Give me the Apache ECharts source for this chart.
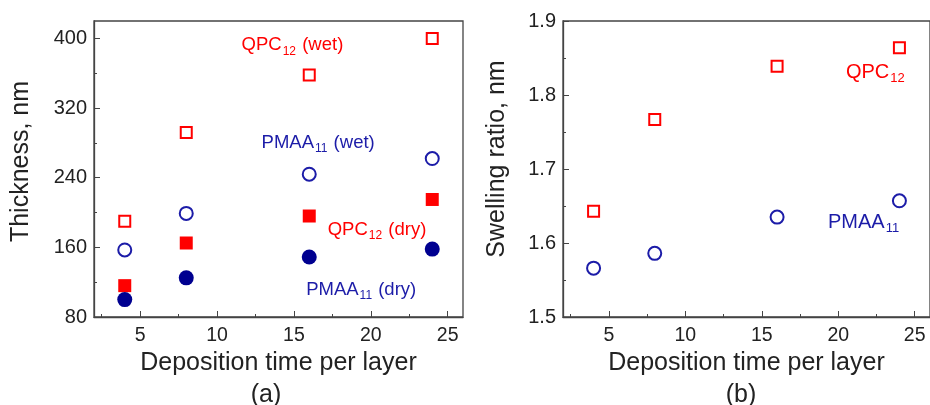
<!DOCTYPE html>
<html><head><meta charset="utf-8">
<script src="https://cdn.jsdelivr.net/npm/echarts@6/dist/echarts.min.js"></script>
<style>html,body{margin:0;padding:0;background:#fff}#c{width:930px;height:405px}</style>
</head><body><div id="c"></div>
<script>
// ---- data ----
const depTime = [4, 8, 16, 24];
const qpcWet = [190, 292, 358, 400];
const pmaaWet = [157, 199, 244, 262];
const qpcDry = [116, 165, 196, 215];
const pmaaDry = [100, 125, 149, 158];
const qpcSwell = [1.643, 1.767, 1.839, 1.864];
const pmaaSwell = [1.566, 1.586, 1.635, 1.657];
const xTicks = [5, 10, 15, 20, 25];
const xMinorTicks = [2.5, 7.5, 12.5, 17.5, 22.5];
const yTicksA = [80, 160, 240, 320, 400];
const yMinorA = [120, 200, 280, 360];
const yTicksB = [1.5, 1.6, 1.7, 1.8, 1.9];
const yMinorB = [1.55, 1.65, 1.75, 1.85];
// annotation texts with anchor (data coords)
const labelsA = [
  {x: 11.6, y: 392, base: 'QPC', sub: '12', rest: ' (wet)', c: 'red'},
  {x: 12.9, y: 280, base: 'PMAA', sub: '11', rest: ' (wet)', c: 'blue'},
  {x: 17.2, y: 180.5, base: 'QPC', sub: '12', rest: ' (dry)', c: 'red'},
  {x: 15.8, y: 111, base: 'PMAA', sub: '11', rest: ' (dry)', c: 'blue'}
];
const labelsB = [
  {x: 20.5, y: 1.831, base: 'QPC', sub: '12', rest: '', c: 'red'},
  {x: 19.33, y: 1.628, base: 'PMAA', sub: '11', rest: '', c: 'blue'}
];

const RED = '#ff0000', BLUE = '#1c1ca8', NAVY = '#000090', AX = '#444';
const FONT = 'Liberation Sans, Arial, sans-serif';

function pts(xs, ys) { return xs.map((x, i) => [x, ys[i]]); }

function xAxes(gi) {
  return [{
    type: 'value', gridIndex: gi, min: 2, max: 26,
    name: 'Deposition time per layer', nameLocation: 'middle', nameGap: 32,
    nameTextStyle: {fontSize: 25, color: '#222', fontFamily: FONT, verticalAlign: 'top'},
    axisLine: {lineStyle: {color: AX, width: 1.3}},
    axisTick: {inside: true, length: 6, customValues: xTicks, lineStyle: {color: AX}},
    axisLabel: {customValues: xTicks, fontSize: 19.5, color: '#222', fontFamily: FONT, margin: 9},
    splitLine: {show: false}
  }, {
    type: 'value', gridIndex: gi, min: 2, max: 26, position: 'bottom',
    axisLine: {show: false},
    axisTick: {inside: true, length: 3, customValues: xMinorTicks, lineStyle: {color: AX}},
    axisLabel: {show: false}, splitLine: {show: false}
  }];
}
function yAxes(gi, min, max, ticks, minor, name, gap, shift, fmt) {
  return [{
    type: 'value', gridIndex: gi, min: min, max: max,
    name: name, nameLocation: 'middle', nameGap: gap, nameRotate: 90,
    nameTextStyle: {fontSize: 25, color: '#222', fontFamily: FONT, padding: [0, 0, 0, shift]},
    axisLine: {show: true, lineStyle: {color: AX, width: 1.3}},
    axisTick: {inside: true, length: 6, customValues: ticks, lineStyle: {color: AX}},
    axisLabel: {customValues: ticks, fontSize: 20, color: '#222', fontFamily: FONT, margin: 7, formatter: fmt},
    splitLine: {show: false}
  }, {
    type: 'value', gridIndex: gi, min: min, max: max, position: 'left',
    axisLine: {show: false},
    axisTick: {inside: true, length: 3, customValues: minor, lineStyle: {color: AX}},
    axisLabel: {show: false}, splitLine: {show: false}
  }];
}
function labelSeries(list, xi, yi, big) {
  const f = big ? 20 : 18.5, fs = big ? 13 : 12, pad = big ? [12, 0, 0, 1] : [12, 1, 0, 1];
  return {
    type: 'scatter', xAxisIndex: xi, yAxisIndex: yi, symbolSize: 0, silent: true, z: 10,
    itemStyle: {opacity: 1},
    data: list.map(l => ({value: [l.x, l.y], lab: l})),
    label: {
      show: true, position: [0, 0], align: 'left', verticalAlign: 'middle',
      formatter: p => '{' + p.data.lab.c + '|' + p.data.lab.base + '}{' + p.data.lab.c + 's|' + p.data.lab.sub + '}{' + p.data.lab.c + '|' + p.data.lab.rest + '}',
      rich: {
        red: {fontSize: f, color: RED, fontFamily: FONT},
        reds: {fontSize: fs, color: RED, fontFamily: FONT, verticalAlign: 'bottom', padding: pad},
        blue: {fontSize: f, color: BLUE, fontFamily: FONT},
        blues: {fontSize: fs, color: BLUE, fontFamily: FONT, verticalAlign: 'bottom', padding: pad}
      }
    }
  };
}

const openSty = (color) => ({color: 'transparent', borderColor: color, borderWidth: 2, opacity: 1});
const fillSty = (color) => ({color: color, opacity: 1});
const chart = echarts.init(document.getElementById('c'));
chart.setOption({
  animation: false,
  grid: [
    {left: 94, top: 21, width: 369, height: 296, show: true, borderColor: AX, borderWidth: 1.3, backgroundColor: 'transparent'},
    {left: 563, top: 21, width: 369, height: 296, show: true, borderColor: AX, borderWidth: 1.3, backgroundColor: 'transparent'}
  ],
  xAxis: [...xAxes(0), ...xAxes(1)],
  yAxis: [
    ...yAxes(0, 80, 420, yTicksA, yMinorA, 'Thickness, nm', 60, 15, v => String(v)),
    ...yAxes(1, 1.5, 1.9, yTicksB, yMinorB, 'Swelling ratio, nm', 53, 20, v => v.toFixed(1))
  ],
  title: [
    {text: '(a)', left: 261, top: 378, textAlign: 'center', textStyle: {fontSize: 25, fontWeight: 'normal', color: '#222', fontFamily: FONT}},
    {text: '(b)', left: 736, top: 378, textAlign: 'center', textStyle: {fontSize: 25, fontWeight: 'normal', color: '#222', fontFamily: FONT}}
  ],
  series: [
    {type: 'scatter', xAxisIndex: 0, yAxisIndex: 0, symbol: 'rect', symbolSize: 11, itemStyle: openSty(RED), data: pts(depTime, qpcWet)},
    {type: 'scatter', xAxisIndex: 0, yAxisIndex: 0, symbol: 'circle', symbolSize: 13, itemStyle: openSty(BLUE), data: pts(depTime, pmaaWet)},
    {type: 'scatter', xAxisIndex: 0, yAxisIndex: 0, symbol: 'rect', symbolSize: 13, itemStyle: fillSty(RED), data: pts(depTime, qpcDry)},
    {type: 'scatter', xAxisIndex: 0, yAxisIndex: 0, symbol: 'circle', symbolSize: 15, itemStyle: fillSty(NAVY), data: pts(depTime, pmaaDry)},
    {type: 'scatter', xAxisIndex: 2, yAxisIndex: 2, symbol: 'rect', symbolSize: 11, itemStyle: openSty(RED), data: pts(depTime, qpcSwell)},
    {type: 'scatter', xAxisIndex: 2, yAxisIndex: 2, symbol: 'circle', symbolSize: 13, itemStyle: openSty(BLUE), data: pts(depTime, pmaaSwell)},
    labelSeries(labelsA, 0, 0, false),
    labelSeries(labelsB, 2, 2, true)
  ]
});
</script></body></html>
